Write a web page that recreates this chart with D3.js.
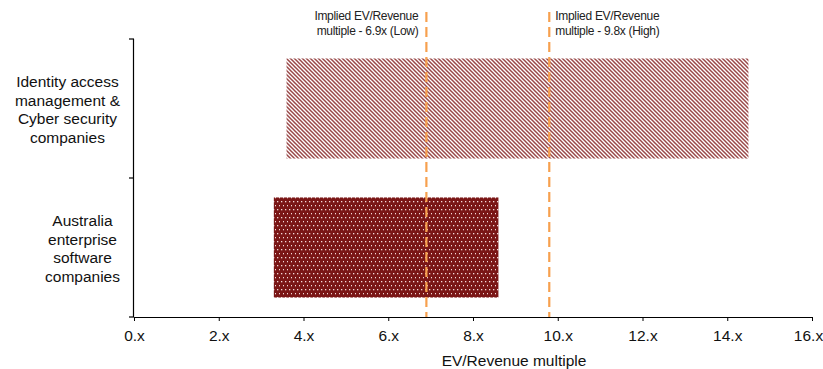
<!DOCTYPE html>
<html>
<head>
<meta charset="utf-8">
<script src="https://cdn.jsdelivr.net/npm/d3@7/dist/d3.min.js"></script>
<style>
  html, body { margin: 0; padding: 0; background: #fff; }
  svg { display: block; font-family: "Liberation Sans", Arial, sans-serif; }
</style>
</head>
<body>
<svg id="chart" width="823" height="369"></svg>
<script>
// Peer groups and their EV/Revenue multiple ranges (low, high)
const categories = [
  ["Identity access", "management &", "Cyber security", "companies"],
  ["Australia", "enterprise", "software", "companies"]
];
const rangeLow  = [3.6, 3.3];
const rangeHigh = [14.5, 8.6];
const patterns  = ["stripes", "dots"];

// Implied multiple reference lines
const impliedValues = [6.9, 9.8];
const impliedLabels = [
  ["Implied EV/Revenue", "multiple - 6.9x (Low)"],
  ["Implied EV/Revenue", "multiple - 9.8x (High)"]
];
const impliedSide = ["left", "right"];

const xTicks = [0, 2, 4, 6, 8, 10, 12, 14, 16];
const xTitle = "EV/Revenue multiple";

const svg = d3.select("#chart");
const plotLeft = 134, plotRight = 812, plotTop = 39, plotBottom = 317;
const fontSize = 15.5;

const x = d3.scaleLinear().domain([0, 16]).range([plotLeft, plotRight]);
const y = d3.scaleBand().domain(d3.range(categories.length)).range([plotTop, plotBottom])
  .paddingInner(0.28).paddingOuter(0.14);

// Fill patterns
const defs = svg.append("defs");
const stripe = defs.append("pattern").attr("id", "stripes")
  .attr("patternUnits", "userSpaceOnUse").attr("width", 4).attr("height", 4);
stripe.append("rect").attr("width", 4).attr("height", 4).attr("fill", "#fff");
stripe.append("path").attr("d", "M-1,-1 L5,5 M-1,3 L1,5 M3,-1 L5,1")
  .attr("stroke", "#8e3434").attr("stroke-width", 1.5).attr("stroke-opacity", 0.9);

const dots = defs.append("pattern").attr("id", "dots")
  .attr("patternUnits", "userSpaceOnUse").attr("width", 4).attr("height", 8);
dots.append("rect").attr("width", 4).attr("height", 8).attr("fill", "#7a1616");
dots.append("rect").attr("x", 1).attr("y", 1).attr("width", 1.3).attr("height", 1.3).attr("fill", "#f3dada");
dots.append("rect").attr("x", 3).attr("y", 5).attr("width", 1.3).attr("height", 1.3).attr("fill", "#f3dada");

// Range bars
svg.append("g").selectAll("rect").data(categories).join("rect")
  .attr("x", (d, i) => x(rangeLow[i]))
  .attr("width", (d, i) => x(rangeHigh[i]) - x(rangeLow[i]))
  .attr("y", (d, i) => y(i))
  .attr("height", y.bandwidth())
  .attr("fill", (d, i) => `url(#${patterns[i]})`);

// X axis
const xAxis = d3.axisBottom(x).tickValues(xTicks).tickFormat(d => d + ".x")
  .tickSize(4).tickSizeOuter(0);
const gx = svg.append("g").attr("transform", `translate(0,${plotBottom})`).call(xAxis);
gx.select(".domain").attr("stroke", "#000").attr("stroke-width", 1.2);
gx.selectAll(".tick line").attr("stroke", "#000");
gx.selectAll(".tick text").attr("font-size", fontSize).attr("fill", "#111")
  .attr("font-family", "Liberation Sans, Arial, sans-serif").attr("dy", "1.1em")
  .attr("x", d => d === 16 ? -4 : 0);

svg.append("text").attr("x", 514).attr("y", 366).attr("text-anchor", "middle")
  .attr("font-size", fontSize).attr("fill", "#111").text(xTitle);

// Y axis: line with ticks at band boundaries
const yBounds = [plotTop, (plotTop + plotBottom) / 2, plotBottom];
svg.append("line").attr("x1", plotLeft - 0.5).attr("x2", plotLeft - 0.5)
  .attr("y1", plotTop).attr("y2", plotBottom).attr("stroke", "#000").attr("stroke-width", 1.2);
svg.append("g").selectAll("line").data(yBounds).join("line")
  .attr("x1", plotLeft - 5).attr("x2", plotLeft).attr("y1", d => d).attr("y2", d => d)
  .attr("stroke", "#000").attr("stroke-width", 1.2);

// Category labels: lines centred on a block right-aligned near the axis
const labelG = svg.append("g").attr("font-size", fontSize).attr("fill", "#111");
categories.forEach((lines, i) => {
  const cy = y(i) + y.bandwidth() / 2;
  const lh = 18.8;
  const t = labelG.append("text").attr("text-anchor", "middle");
  lines.forEach((ln, k) => {
    t.append("tspan").attr("y", cy + (k - (lines.length - 1) / 2) * lh + 6.5).text(ln);
  });
  // centre the block so its widest line ends near x = 120
  const spans = t.selectAll("tspan").nodes();
  const w = d3.max(spans, n => n.getComputedTextLength());
  t.selectAll("tspan").attr("x", 120 - w / 2);
});

// Implied multiple dashed lines and labels
impliedValues.forEach((v, i) => {
  svg.append("line").attr("x1", x(v)).attr("x2", x(v)).attr("y1", 12).attr("y2", plotBottom)
    .attr("stroke", "#f7a04e").attr("stroke-width", 2.2).attr("stroke-dasharray", "10,5");
  const t = svg.append("text").attr("font-size", 12).attr("fill", "#222")
    .attr("letter-spacing", -0.3)
    .attr("text-anchor", impliedSide[i] === "left" ? "end" : "start");
  const tx = impliedSide[i] === "left" ? x(v) - 8 : x(v) + 6;
  impliedLabels[i].forEach((ln, k) => {
    t.append("tspan").attr("x", tx).attr("y", 20 + k * 15).text(ln);
  });
});
</script>
</body>
</html>
